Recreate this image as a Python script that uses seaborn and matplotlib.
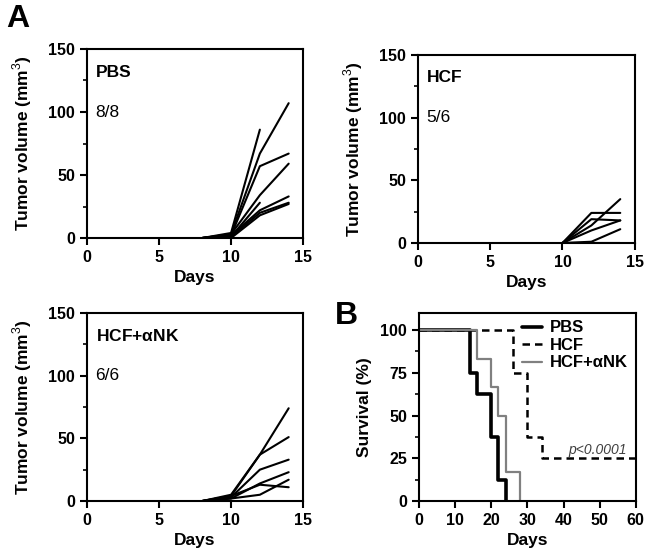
import numpy as np
import pandas as pd
import matplotlib
matplotlib.use('Agg')
import matplotlib.pyplot as plt
import seaborn as sns

sns.set_style('ticks')
plt.rcParams['font.family'] = ['Liberation Sans', 'DejaVu Sans']
plt.rcParams['mathtext.fontset'] = 'custom'
plt.rcParams['mathtext.rm'] = 'Liberation Sans'
plt.rcParams['mathtext.bf'] = 'Liberation Sans:bold'
plt.rcParams['text.color'] = 'black'
plt.rcParams['axes.labelcolor'] = 'black'
plt.rcParams['xtick.color'] = 'black'
plt.rcParams['ytick.color'] = 'black'
plt.rcParams['axes.edgecolor'] = 'black'

# tumor growth, one list per mouse (days 8, 10, 12, 14; nan = no measurement)
days = [8, 10, 12, 14]
pbs_mice = [
    [0, 3, 67, 107],
    [0, 4, 86, np.nan],
    [0, 2, 57, 67],
    [0, 3, 34, 59],
    [0, 1, 28, np.nan],
    [0, 2, 22, 33],
    [0, 1, 20, 28],
    [0, 0, 18, 27],
]
hcf_mice = [
    [np.nan, 0, 24, 24],
    [np.nan, 0, 19, 18],
    [np.nan, 0, 14, 35],
    [np.nan, 0, 10, 18],
    [np.nan, 0, 1, 11],
    [np.nan, 0, 0, 0],
]
ank_mice = [
    [0, 4, 37, 74],
    [0, 5, 37, 51],
    [0, 3, 25, 33],
    [0, 2, 14, 23],
    [0, 4, 13, 11],
    [0, 2, 5, 17],
]

# survival curves
pbs_surv_t = [0, 14, 16, 20, 22, 24]
pbs_surv = [100, 75, 62.5, 37.5, 12.5, 0]
hcf_surv_t = [0, 26, 30, 34, 60]
hcf_surv = [100, 75, 37.5, 25, 25]
ank_surv_t = [0, 16, 20, 22, 24, 28]
ank_surv = [100, 83.3, 66.7, 50, 16.7, 0]


def tumor_df(mice):
    rows = []
    for m, vals in enumerate(mice):
        for d, v in zip(days, vals):
            if not np.isnan(v):
                rows.append({'mouse': m, 'day': d, 'vol': v})
    return pd.DataFrame(rows)


def style_box(ax):
    for s in ax.spines.values():
        s.set_linewidth(1.5)
        s.set_visible(True)
    ax.tick_params(width=1.5, length=5, labelsize=11.5)
    ax.tick_params(which='minor', width=1.2, length=3)
    for lab in ax.get_xticklabels() + ax.get_yticklabels():
        lab.set_fontweight('bold')


fig = plt.figure(figsize=(6.49, 5.53), dpi=100)

panels = [
    ([0.134, 0.5696, 0.333, 0.3418], pbs_mice, 'PBS', '8/8'),
    ([0.644, 0.5606, 0.334, 0.340], hcf_mice, 'HCF', '5/6'),
    ([0.134, 0.094, 0.333, 0.340], ank_mice, r'HCF+$\mathbf{\alpha}$NK', '6/6'),
]
for pos, mice, name, frac in panels:
    ax = fig.add_axes(pos)
    df = tumor_df(mice)
    sns.lineplot(data=df, x='day', y='vol', units='mouse', estimator=None,
                 color='black', linewidth=1.5, ax=ax)
    ax.set_xlim(0, 15)
    ax.set_ylim(0, 150)
    ax.set_xticks([0, 5, 10, 15])
    ax.set_yticks([0, 50, 100, 150])
    ax.set_yticks([25, 75, 125], minor=True)
    ax.set_xlabel('Days', fontsize=12.5, fontweight='bold')
    ax.set_ylabel(r'Tumor volume (mm$^3$)', fontsize=12.5, fontweight='bold',
                  labelpad=10)
    ax.text(0.04, 0.878, name, transform=ax.transAxes, fontsize=12.5,
            fontweight='bold', va='center', ha='left')
    ax.text(0.04, 0.665, frac, transform=ax.transAxes, fontsize=12.5,
            va='center', ha='left')
    style_box(ax)

# survival panel
axb = fig.add_axes([0.6456, 0.094, 0.334, 0.340])
surv = pd.concat([
    pd.DataFrame({'t': pbs_surv_t, 's': pbs_surv, 'g': 'PBS'}),
    pd.DataFrame({'t': hcf_surv_t, 's': hcf_surv, 'g': 'HCF'}),
    pd.DataFrame({'t': ank_surv_t, 's': ank_surv, 'g': 'HCF+αNK'}),
])
styles = {'PBS': ('black', 2.6, '-'), 'HCF': ('black', 1.8, (0, (3, 2))),
          'HCF+αNK': ('#808080', 1.6, '-')}
for g in ['PBS', 'HCF', 'HCF+αNK']:
    c, lw, ls = styles[g]
    sns.lineplot(data=surv[surv['g'] == g], x='t', y='s', color=c,
                 linewidth=lw, linestyle=ls, drawstyle='steps-post',
                 label=g, ax=axb)
axb.set_xlim(0, 60)
axb.set_ylim(0, 110)
axb.set_xticks(range(0, 61, 10))
axb.set_yticks([0, 25, 50, 75, 100])
axb.set_yticks([12.5, 37.5, 62.5, 87.5], minor=True)
axb.set_xlabel('Days', fontsize=12.5, fontweight='bold')
axb.set_ylabel('Survival (%)', fontsize=12.5, fontweight='bold', labelpad=6)
axb.text(49.5, 30, 'p<0.0001', fontsize=10, style='italic', color='#404040',
         ha='center', va='center')
leg = axb.legend(loc='upper right', frameon=False, handlelength=1.2,
                 handletextpad=0.5, labelspacing=0.15, borderaxespad=0.05,
                 prop={'weight': 'bold', 'size': 12})
style_box(axb)

fig.text(0.009, 0.992, 'A', fontsize=23, fontweight='bold', va='top')
fig.text(0.516, 0.455, 'B', fontsize=23, fontweight='bold', va='top')

fig.savefig('out.png', dpi=100)
